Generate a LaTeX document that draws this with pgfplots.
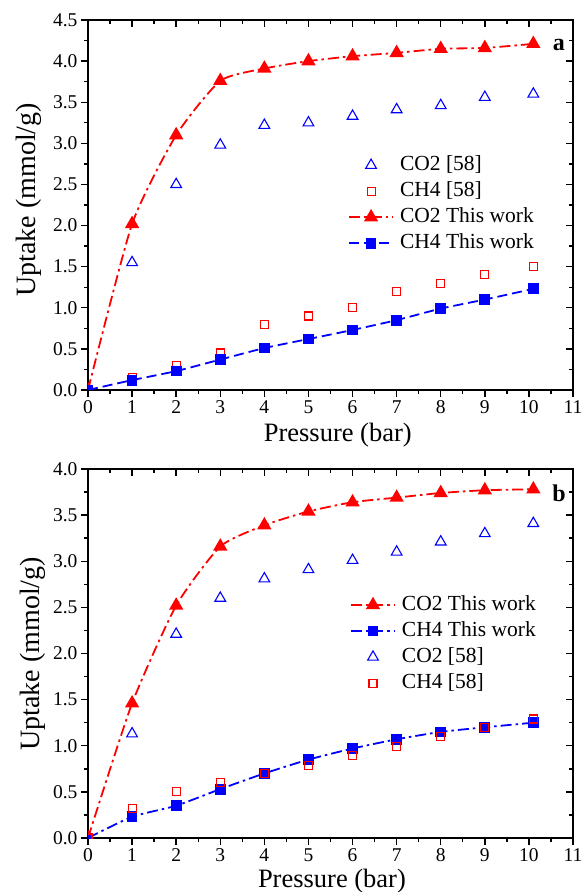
\documentclass[border=0pt]{standalone}
\usepackage{fontspec}
\setmainfont{Liberation Serif}
\usepackage{pgfplots}
\pgfplotsset{compat=1.18}
\definecolor{myred}{RGB}{255,0,0}
\definecolor{myblue}{RGB}{0,0,255}
\pgfplotsset{
  myleg/.style={legend image code/.code={\draw[mark repeat=2,mark phase=2,##1] plot coordinates {(0pt,0pt)(22pt,0pt)(44pt,0pt)}; \path[draw=none,fill=none] (0pt,0pt) -- (49pt,0pt);}},
  markleg/.style={legend image code/.code={\draw[##1] plot coordinates {(22pt,0pt)}; \path[draw=none,fill=none] (0pt,0pt) -- (49pt,0pt);}},
  base/.style={scale only axis, width=485pt, xmin=0, xmax=11, xtick={0,...,11},
    minor x tick num=1, minor y tick num=1,
    axis line style={line width=2pt},
    tick style={black, line width=1.4pt},
    major tick length=7pt, minor tick length=4pt,
    /pgf/number format/assume math mode=true,
    tick label style={font=\fontsize{19.5}{22}\selectfont},
    yticklabel style={/pgf/number format/.cd, fixed, fixed zerofill, precision=1},
    clip marker paths=true},
  labs/.style={tick align=outside, xtick pos=left, ytick pos=left,
    xlabel style={font=\fontsize{26.5}{30}\selectfont},
    ylabel style={font=\fontsize{28}{30}\selectfont},
    xlabel={Pressure (bar)}, ylabel={Uptake (mmol/g)},
    legend cell align=left,
    legend style={draw=none, fill=none, inner sep=0pt, font=\fontsize{21.5}{25}\selectfont, anchor=north west,
      nodes={inner sep=2pt, text height=16pt, text depth=6pt}}},
  inner/.style={tick align=inside, xtick pos=right, ytick pos=right, xticklabels={}, yticklabels={}},
  redline/.style={color=myred, line width=1.8pt, smooth, tension=0.35, mark=triangle*, mark size=6.5pt, mark options={solid, fill=myred}},
  blueline/.style={color=myblue, line width=1.8pt, smooth, tension=0.35, mark=square*, mark size=4.5pt, mark options={solid, fill=myblue}},
  opentri/.style={only marks, color=myblue, mark=triangle, mark size=6.2pt, mark options={line width=1.1pt, draw=myblue}},
  opensq/.style={only marks, color=myred, mark=square, mark size=4pt, mark options={line width=1.1pt, draw=myred}},
  dashdot/.style={dash pattern=on 11pt off 4pt on 2.5pt off 4pt},
  dashd/.style={dash pattern=on 10pt off 5pt}
}
\begin{document}
\begin{tikzpicture}
\path[use as bounding box] (0,0) rectangle (584pt,892pt);
% ---------- panel a ----------
\begin{axis}[base, inner, at={(88pt,502pt)}, anchor=south west, height=370pt, ymin=0, ymax=4.5, ytick={0,0.5,...,4.5}]
\end{axis}
\begin{axis}[base, labs, at={(88pt,502pt)}, anchor=south west, height=370pt, ymin=0, ymax=4.5, ytick={0,0.5,...,4.5},
  xlabel style={at={(axis description cs:0.515,-0.1405)}, anchor=base},
  ylabel style={at={(axis description cs:-0.109,0.514)}, anchor=base},
  legend style={at={(axis description cs:0.536,0.643)}}]
\addplot[opentri, markleg] coordinates {(1,1.55) (2,2.5) (3,2.98) (4,3.22) (5,3.25) (6,3.33) (7,3.41) (8,3.46) (9,3.56) (10.1,3.6)};
\addlegendentry{CO2 [58]}
\addplot[opensq, markleg] coordinates {(1,0.15) (2,0.3) (3,0.45) (4,0.8) (5,0.9) (6,1.0) (7,1.2) (8,1.3) (9,1.4) (10.1,1.5)};
\addlegendentry{CH4 [58]}
\addplot[redline, dashdot, myleg] coordinates {(0,0) (1,2.02) (2,3.1) (3,3.76) (4,3.91) (5,4.0) (6,4.06) (7,4.1) (8,4.15) (9,4.16) (10.1,4.21)};
\addlegendentry{CO2 This work}
\addplot[blueline, dashd, myleg] coordinates {(0,0) (1,0.12) (2,0.23) (3,0.37) (4,0.51) (5,0.62) (6,0.73) (7,0.85) (8,0.99) (9,1.1) (10.1,1.23)};
\addlegendentry{CH4 This work}
\node[font=\fontsize{24}{24}\selectfont\bfseries] at (axis description cs:0.971,0.932) {a};
\end{axis}
% ---------- panel b ----------
\begin{axis}[base, inner, at={(88pt,54pt)}, anchor=south west, height=369pt, ymin=0, ymax=4.0, ytick={0,0.5,...,4.0}]
\end{axis}
\begin{axis}[base, labs, at={(88pt,54pt)}, anchor=south west, height=369pt, ymin=0, ymax=4.0, ytick={0,0.5,...,4.0},
  xlabel style={at={(axis description cs:0.503,-0.1328)}, anchor=base},
  ylabel style={at={(axis description cs:-0.099,0.499)}, anchor=base},
  legend style={at={(axis description cs:0.54,0.667)}}]
\addplot[redline, dashdot, myleg] coordinates {(0,0) (1,1.46) (2,2.52) (3,3.16) (4,3.39) (5,3.54) (6,3.64) (7,3.69) (8,3.74) (9,3.77) (10.1,3.78)};
\addlegendentry{CO2 This work}
\addplot[blueline, dashdot, myleg] coordinates {(0,0) (1,0.23) (2,0.35) (3,0.53) (4,0.7) (5,0.85) (6,0.97) (7,1.07) (8,1.15) (9,1.2) (10.1,1.25)};
\addlegendentry{CH4 This work}
\addplot[opentri, markleg] coordinates {(1,1.13) (2,2.21) (3,2.6) (4,2.81) (5,2.91) (6,3.01) (7,3.1) (8,3.21) (9,3.3) (10.1,3.41)};
\addlegendentry{CO2 [58]}
\addplot[opensq, markleg] coordinates {(0,0) (1,0.32) (2,0.5) (3,0.6) (4,0.7) (5,0.79) (6,0.89) (7,0.99) (8,1.1) (9,1.2) (10.1,1.29)};
\addlegendentry{CH4 [58]}
\node[font=\fontsize{24}{24}\selectfont\bfseries] at (axis description cs:0.971,0.935) {b};
\end{axis}
\end{tikzpicture}
\end{document}
